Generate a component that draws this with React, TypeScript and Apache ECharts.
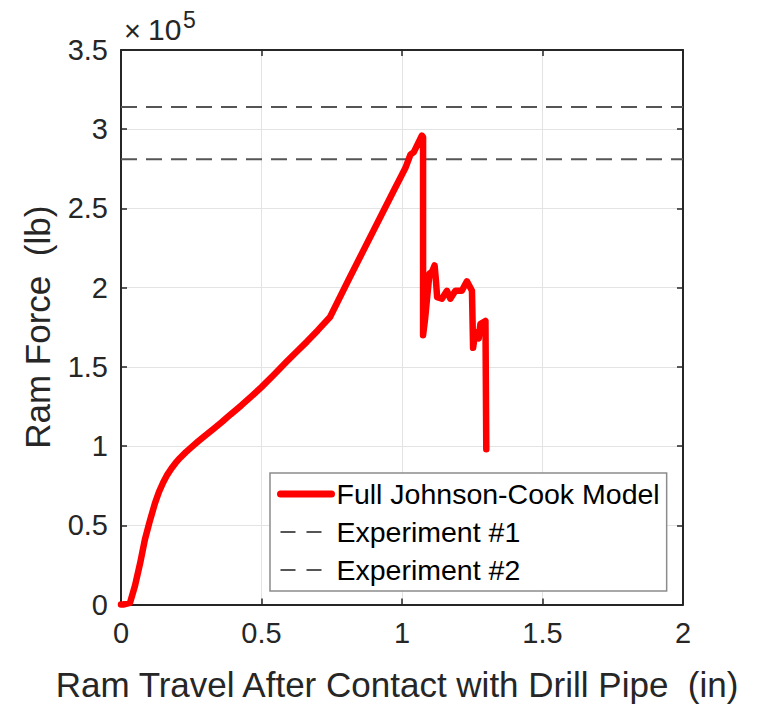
import React, { useEffect, useRef } from "react";
import * as echarts from "echarts";

// Ram travel after contact (in)
const travel = [
  0, 0.008, 0.032, 0.05, 0.068, 0.085, 0.103, 0.121, 0.135, 0.15, 0.165,
  0.18, 0.195, 0.21, 0.23, 0.251, 0.275, 0.299, 0.33, 0.358, 0.39, 0.429,
  0.465, 0.5, 0.545, 0.589, 0.625, 0.661, 0.7, 0.744, 0.81, 0.97, 1.012,
  1.03, 1.042, 1.071, 1.075, 1.075, 1.082, 1.089, 1.098, 1.107, 1.116, 1.121,
  1.125, 1.142, 1.16, 1.172, 1.19, 1.213, 1.231, 1.249, 1.253, 1.261, 1.273,
  1.279, 1.297, 1.3,
];
// Ram force (lb)
const force = [
  0, 0, 1000, 12000, 26000, 41000, 53000, 64000, 71000, 77000, 82000,
  86000, 89500, 92500, 96000, 99300, 103000, 106500, 111000, 115000, 120000,
  125800, 131500, 137200, 145200, 153200, 159500, 165800, 173000, 181500,
  205000, 261000, 275500, 284000, 285500, 296000, 295000, 170000, 180000,
  193000, 209000, 210000, 214000, 204000, 194000, 193000, 198000, 193000,
  198000, 198000, 204000, 198000, 162000, 172000, 168000, 177000, 179000,
  98000,
];
const experiment1 = 314000;
const experiment2 = 281000;
const xRange = [0, 2];
const seriesNames = ["Full Johnson-Cook Model", "Experiment #1", "Experiment #2"];

const FONT = "'Liberation Sans', Arial, Helvetica, sans-serif";
const TXT = "#262626";

export default function App() {
  const ref = useRef<HTMLDivElement>(null);
  useEffect(() => {
    if (!ref.current) return;
    const chart = echarts.init(ref.current, undefined, { renderer: "svg" });
    const mainData = travel.map((x, i) => [x, force[i]]);
    const axisBox = {
      axisLine: { show: true, onZero: false, lineStyle: { color: TXT, width: 2 } },
      axisTick: { show: true, inside: true, length: 6, lineStyle: { color: TXT, width: 1.5 } },
    };
    chart.setOption({
      animation: false,
      textStyle: { fontFamily: FONT },
      grid: { left: 121, right: 80, top: 50, bottom: 99, containLabel: false },
      xAxis: [
        {
          type: "value",
          min: 0,
          max: 2,
          interval: 0.5,
          ...axisBox,
          axisLabel: { color: TXT, fontSize: 29, margin: 14, fontFamily: FONT },
          splitLine: { show: true, lineStyle: { color: "#e3e3e3", width: 1 } },
          name: "Ram Travel After Contact with Drill Pipe  (in)",
          nameLocation: "middle",
          nameGap: 80,
          nameTextStyle: {
            color: TXT,
            fontSize: 35,
            fontFamily: FONT,
            verticalAlign: "middle",
            padding: [0, 10, 0, 0],
          },
        },
        {
          type: "value",
          position: "top",
          min: 0,
          max: 2,
          interval: 0.5,
          ...axisBox,
          axisLabel: { show: false },
          splitLine: { show: false },
        },
      ],
      yAxis: [
        {
          type: "value",
          min: 0,
          max: 350000,
          interval: 50000,
          ...axisBox,
          axisLabel: {
            color: TXT,
            fontSize: 29,
            margin: 13,
            fontFamily: FONT,
            formatter: (v: number) => String(v / 1e5),
          },
          splitLine: { show: true, lineStyle: { color: "#e3e3e3", width: 1 } },
          name: "Ram Force  (lb)",
          nameLocation: "middle",
          nameGap: 84,
          nameTextStyle: { color: TXT, fontSize: 35, fontFamily: FONT, verticalAlign: "middle" },
        },
        {
          type: "value",
          position: "right",
          min: 0,
          max: 350000,
          interval: 50000,
          ...axisBox,
          axisLabel: { show: false },
          splitLine: { show: false },
        },
      ],
      legend: {
        orient: "vertical",
        left: 270,
        top: 473,
        padding: [2, 7, 2, 7],
        itemGap: 0,
        itemWidth: 51,
        itemHeight: 14,
        backgroundColor: "#ffffff",
        borderColor: "#8c8c8c",
        borderWidth: 1.5,
        borderRadius: 0,
        itemStyle: { opacity: 0 },
        textStyle: { color: "#000", fontSize: 28.5, lineHeight: 38, fontFamily: FONT },
        data: [
          { name: seriesNames[0], lineStyle: { width: 7 } },
          { name: seriesNames[1], lineStyle: { width: 2, type: [15, 11] } },
          { name: seriesNames[2], lineStyle: { width: 2, type: [15, 11] } },
        ],
      },
      graphic: [
        { type: "text", left: 124, top: 16, style: { text: "×", font: `29px ${FONT}`, fill: TXT } },
        { type: "text", left: 148, top: 14, style: { text: "10", font: `30px ${FONT}`, fill: TXT } },
        { type: "text", left: 183, top: 8, style: { text: "5", font: `23px ${FONT}`, fill: TXT } },
      ],
      series: [
        {
          name: seriesNames[0],
          type: "line",
          data: mainData,
          symbol: "none",
          clip: false,
          z: 5,
          lineStyle: { color: "#ff0000", width: 6.5, join: "round", cap: "round" },
          itemStyle: { color: "#ff0000" },
        },
        {
          name: seriesNames[1],
          type: "line",
          data: xRange.map((x) => [x, experiment1]),
          symbol: "none",
          lineStyle: { color: "#555555", width: 2, type: [16, 9] },
          itemStyle: { color: "#555555" },
        },
        {
          name: seriesNames[2],
          type: "line",
          data: xRange.map((x) => [x, experiment2]),
          symbol: "none",
          lineStyle: { color: "#555555", width: 2, type: [16, 9] },
          itemStyle: { color: "#555555" },
        },
      ],
    });
    return () => chart.dispose();
  }, []);
  return <div ref={ref} style={{ width: 763, height: 707, position: "absolute", left: 0, top: 0 }} />;
}
